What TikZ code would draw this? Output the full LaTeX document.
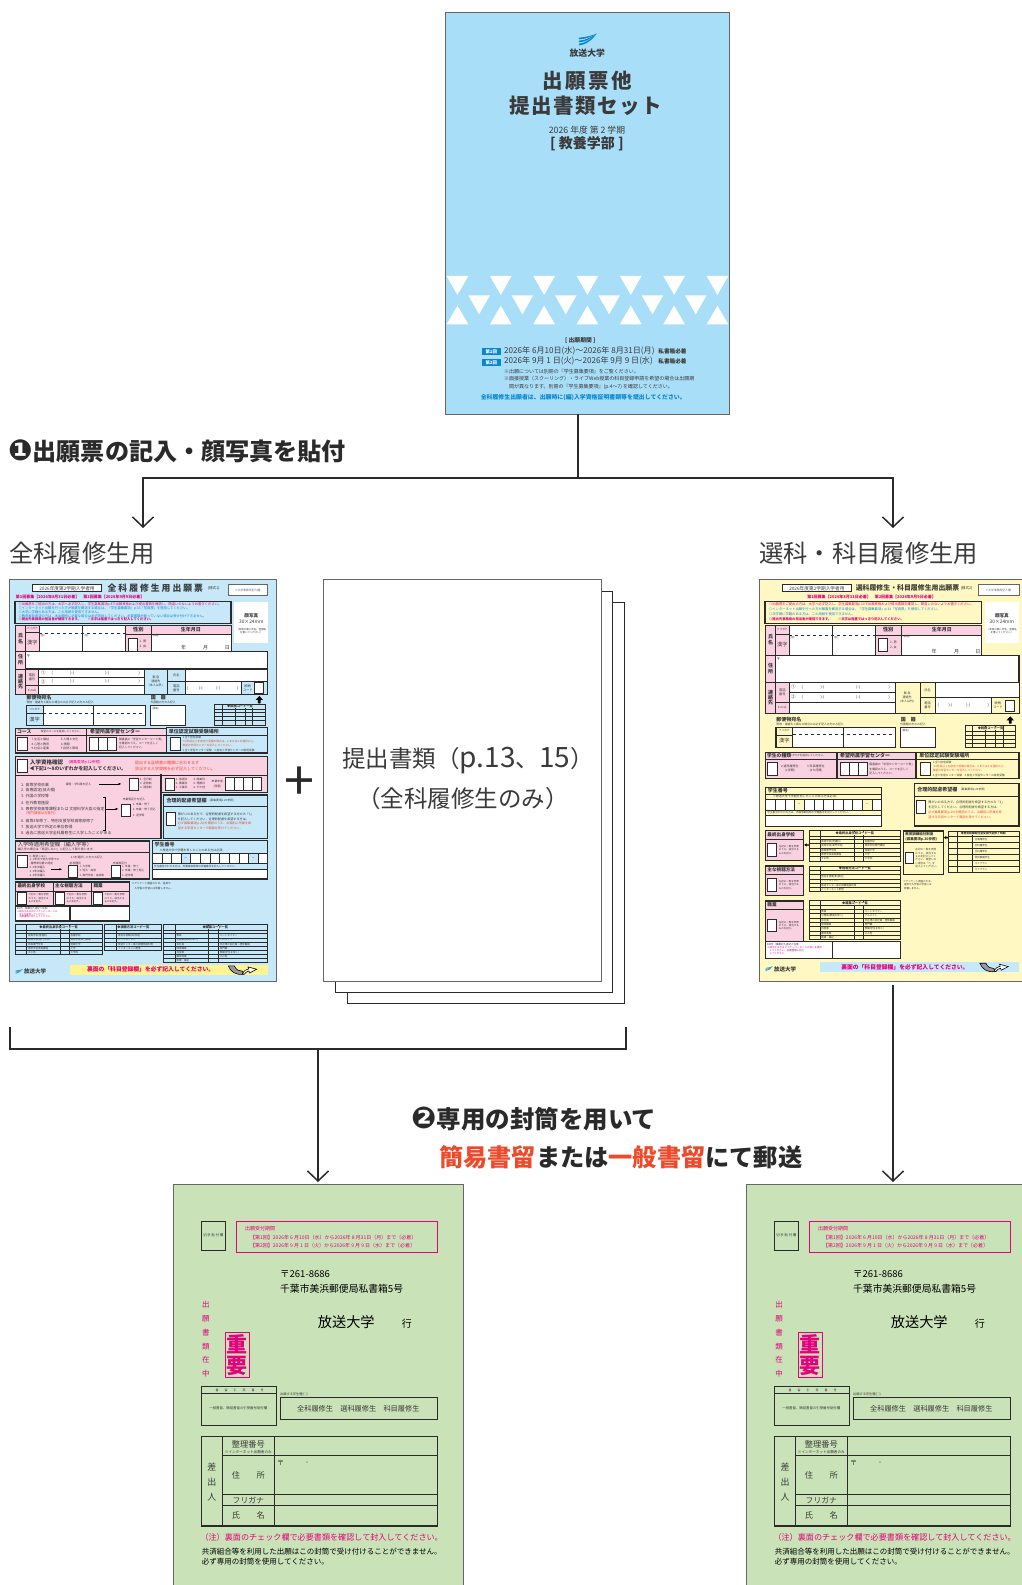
\documentclass[tikz,border=0pt]{standalone}
\usepackage{fontspec}
\setmainfont{Noto Sans CJK JP}
\newfontfamily\dingfont{DejaVu Sans}
\usetikzlibrary{arrows.meta}
\definecolor{coverblue}{HTML}{A9DEF9}
\definecolor{formblue}{HTML}{C6E8F8}
\definecolor{formpink}{HTML}{F9D1E1}
\definecolor{formyellow}{HTML}{FFF8C2}
\definecolor{bandyellow}{HTML}{FFF38F}
\definecolor{envgreen}{HTML}{C9E2B8}
\definecolor{hotpink}{HTML}{E6007E}
\definecolor{orangered}{HTML}{EC4A2A}
\definecolor{inkdark}{HTML}{2A2A2A}
\definecolor{inktext}{HTML}{3A3A3A}
\definecolor{logoblue}{HTML}{0A86CE}
\newcommand{\fs}[1]{\fontsize{#1}{#1}\selectfont}
% table: x1 x2 y1 y2, rows, columns
\newcommand{\gridtable}[6]{
  \draw[cell] (#1,#3) rectangle (#2,#4);
  \foreach \yy in {#5} \draw[cell] (#1,\yy)--(#2,\yy);
  \foreach \xx in {#6} \draw[cell] (\xx,#3)--(\xx,#4);
}
% telephone brackets: name, y, then x of each bracket
\newcommand{\phonerow}[6]{
  \node[ct,font=\fs{3.6}] (#1a) at (#3,#2) {(};
  \node[ct,font=\fs{3.6}] (#1b) at (#4,#2) {)-(};
  \node[ct,font=\fs{3.6}] (#1c) at (#5,#2) {)-(};
  \node[ct,font=\fs{3.6}] (#1d) at (#6,#2) {)};
}
\tikzset{
  lt/.style={inner sep=0pt,anchor=west,text=inktext},
  ct/.style={inner sep=0pt,anchor=center,text=inktext},
  cell/.style={draw=inkdark,line width=0.7pt},
  heavycell/.style={draw=inkdark,line width=1.2pt},
  sheet/.style={draw=black!60,line width=1pt,inner sep=0pt},
  link/.style={draw=inkdark,line width=1.5pt},
  linkarrow/.style={link,-{Straight Barb[length=10pt,width=21pt,line width=1.5pt]}},
  turnover/.pic={
    \fill[draw=black,fill=black!40,line width=0.6pt] (685,588)--(703,588) .. controls (708,600) and (718,604) .. (727,604)--(731,613) .. controls (705,616) and (692,605) .. (685,588)--cycle;
    \fill[draw=black,fill=white,line width=0.6pt] (727,612) .. controls (733,602) and (738,598) .. (746,597)--(744,591)--(770,598)--(749,609)--(747,603) .. controls (741,604) and (736,608) .. (733,613)--cycle;
  },
  logostripes/.pic={
    \foreach \dy in {-2,7,16} \fill[logoblue] (0,\dy) .. controls (22,\dy-1) and (42,{-9+\dy*0.35}) .. (53,-14) .. controls (44,{-7+\dy*0.45}) and (22,\dy+4.5) .. (0,\dy+5)--cycle;
  },
  envelope/.pic={
    \begin{scope}[x=0.3333pt,y=-0.3333pt]
      \node[sheet,fill=envgreen,minimum width=290pt,minimum height=430pt,anchor=north west] (body) at (23,12) {};
      \draw[heavycell,fill=envgreen] (109,125) rectangle (181,211);
      \node[ct,font=\fs{3.4}] (stamp) at (145,167) {切 手 貼 付 欄};
      \draw[draw=hotpink,line width=1.4pt] (215,125) rectangle (817,217);
      \node[lt,text=hotpink,font=\fs{5}] (termhead) at (240,146) {出願受付期間};
      \node[lt,text=hotpink,font=\fs{5}] (termone) at (255,172) {【第1回】2026年 6 月10日（水）から2026年 8 月31日（月）まで〔必着〕};
      \node[lt,text=hotpink,font=\fs{5}] (termtwo) at (255,197) {【第2回】2026年 9 月 1 日（火）から2026年 9 月 9 日（水）まで〔必着〕};
      \node[lt,text=black,font=\fs{9.5}] (zip) at (345,283) {〒261-8686};
      \node[lt,text=black,font=\fs{9.8}] (addr) at (345,327) {千葉市美浜郵便局私書箱5号};
      \node[lt,text=black,font=\fs{14.2}] (univ) at (458,425) {放送大学};
      \node[ct,text=black,font=\fs{10}] (yuki) at (726,430) {行};
      \node[ct,text=hotpink,align=center,font=\fs{7.5}] (inner) at (123,478) {出\\[6.3pt]願\\[6.3pt]書\\[6.3pt]類\\[6.3pt]在\\[6.3pt]中};
      \draw[draw=hotpink,line width=0.8pt] (180,456) rectangle (254,592);
      \node[ct,text=hotpink,align=center,font=\fs{21}\bfseries] (juyo) at (217,524) {重\\要};
      \draw[heavycell] (109,620) rectangle (334,737);
      \draw[heavycell] (109,640)--(334,640);
      \node[ct,font=\fs{3}\addfontfeature{LetterSpace=200}] (reghead) at (224,630) {書留引受番号};
      \node[ct,font=\fs{3.4}] (regbody) at (220,686) {一般書留、簡易書留の引受番号貼付欄};
      \node[lt,font=\fs{3.2}] (kindhead) at (345,643) {出願する学生種(□)};
      \draw[heavycell] (346,652) rectangle (817,719);
      \node[ct,font=\fs{7.2}] (kind) at (580,687) {全科履修生　選科履修生　科目履修生};
      \draw[heavycell] (109,770) rectangle (817,1038);
      \draw[heavycell] (173,770)--(173,1038);
      \draw[heavycell] (328,770)--(328,1038);
      \draw[heavycell] (173,827)--(817,827);
      \draw[heavycell] (173,943)--(817,943);
      \draw[heavycell] (173,976)--(817,976);
      \node[ct,align=center,font=\fs{9}] (sender) at (141,905) {差\\[6pt]出\\[6pt]人};
      \node[ct,font=\fs{8.2}] (seiri) at (250,792) {整理番号};
      \node[ct,font=\fs{3.6}] (seirisub) at (250,815) {※インターネット出願者のみ};
      \node[ct,font=\fs{8.2}] (jusho) at (250,885) {住　　所};
      \node[ct,font=\fs{7.8}] (kana) at (250,960) {フリガナ};
      \node[ct,font=\fs{8.2}] (shimei) at (250,1006) {氏　　名};
      \node[ct,font=\fs{7}] (post) at (347,850) {〒};
      \node[ct,font=\fs{7}] (dash) at (426,850) {-};
      \node[lt,text=hotpink,font=\fs{8.1}] (note) at (106,1071) {（注）裏面のチェック欄で必要書類を確認して封入してください。};
      \node[lt,text=black,font=\fs{7.5}] (warnone) at (110,1115) {共済組合等を利用した出願はこの封筒で受け付けることができません。};
      \node[lt,text=black,font=\fs{7.5}] (warntwo) at (110,1145) {必ず専用の封筒を使用してください。};
    \end{scope}
  }
}
\begin{document}
\begin{tikzpicture}[x=1pt,y=-1pt]
  \useasboundingbox (0,0) rectangle (1022,1585);
  \clip (0,0) rectangle (1022,1585);

  % cover
  \node[sheet,fill=coverblue,minimum width=284pt,minimum height=402pt] (cover) at (587,213) {};
  \begin{scope}[x=0.3333pt,y=-0.3333pt,shift={(1290,0)}]
    \pic at (447,115) {logostripes};
    \node[ct,font=\fs{8.8}\bfseries] (logotext) at (472,160) {放送大学};
    \node[ct,font=\fs{20.5}\bfseries\addfontfeature{LetterSpace=13.5}] (covertop) at (472,243) {出願票他};
    \node[ct,font=\fs{20.5}\bfseries\addfontfeature{LetterSpace=7}] (coverbot) at (468,318) {提出書類セット};
    \node[ct,font=\fs{8.8}] (coveryear) at (471,390) {2026 年度 第 2 学期};
    \node[ct,font=\fs{14}\bfseries] (coverdept) at (471,432) {[\ 教養学部\ ]};
    \foreach \i in {0,...,6} {
      \fill[white] (50+130*\i,828)--(115+130*\i,828)--(82.5+130*\i,885)--cycle;
      \fill[white] (50+130*\i,973)--(115+130*\i,973)--(82.5+130*\i,917)--cycle;
    }
    \foreach \i in {0,...,5}
      \fill[white] (115+130*\i,886)--(180+130*\i,886)--(147.5+130*\i,943)--cycle;
    \node[ct,font=\fs{5.8}\bfseries] (termtitle) at (451,1021) {[\ 出願期間\ ]};
    \fill[logoblue] (157,1044) rectangle (212,1065);
    \fill[logoblue] (157,1077) rectangle (212,1098);
    \node[ct,text=white,font=\fs{4.4}\bfseries] (roundone) at (184,1055) {第1回};
    \node[ct,text=white,font=\fs{4.4}\bfseries] (roundtwo) at (184,1088) {第2回};
    \node[lt,font=\fs{8.1}] (dateone) at (222,1053) {2026年 6月10日(水)〜2026年 8月31日(月)};
    \node[lt,font=\fs{8.1}] (datetwo) at (222,1084) {2026年 9月 1 日(火)〜2026年 9月 9 日(水)};
    \node[lt,font=\fs{5.6}\bfseries] (mailone) at (685,1055) {私書箱必着};
    \node[lt,font=\fs{5.6}\bfseries] (mailtwo) at (685,1085) {私書箱必着};
    \node[lt,font=\fs{5}] (cnoteone) at (222,1115) {※出願については別冊の『学生募集要項』をご覧ください。};
    \node[lt,font=\fs{5}] (cnotetwo) at (222,1137) {※面接授業（スクーリング）・ライブWeb授業の科目登録申請を希望の場合は出願期};
    \node[lt,font=\fs{5}] (cnotethr) at (237,1160) {間が異なります。別冊の『学生募集要項』(p.4〜7) を確認してください。};
    \node[ct,text=logoblue,font=\fs{5.9}\bfseries] (cnoteblue) at (460,1193) {全科履修生出願者は、出願時に(編)入学資格証明書類等を提出してください。};
  \end{scope}

  % step one
  \node[lt,text=inkdark,font=\fs{24.1}\bfseries] (stepone) at (8,451) {{\dingfont\fs{29}❶}出願票の記入・顔写真を貼付};
  \coordinate (coverfoot) at (578,414);
  \coordinate (split) at (578,478);
  \coordinate (turnzen) at (143,478);
  \coordinate (turnsen) at (893,478);
  \coordinate (tipzen) at (143,528);
  \coordinate (tipsen) at (893,528);
  \draw[link] (coverfoot) -- (split);
  \draw[linkarrow] (split) -- (turnzen) -- (tipzen);
  \draw[linkarrow] (split) -- (turnsen) -- (tipsen);
  \node[lt,text=inktext,font=\fs{24.3}] (labelzen) at (9,553) {全科履修生用};
  \node[lt,text=inktext,font=\fs{24.3}] (labelsen) at (759,553) {選科・科目履修生用};

  % full course form
  \node[sheet,fill=formblue,minimum width=267pt,minimum height=402pt] (formzen) at (142.5,780) {};
  \begin{scope}[x=0.3333pt,y=-0.3333pt,shift={(0,1710)}]
    \draw[heavycell,fill=white] (97,44) rectangle (305,65);
    \node[ct,font=\fs{4.7}] (a1) at (201,55) {2026年度第2学期入学者用};
    \node[ct,font=\fs{8.8}\bfseries] (a2) at (466,55) {全 科 履 修 生 用 出 願 票};
    \node[lt,font=\fs{3.6}] (a3) at (623,55) {(様式1)};
    \draw[draw=black!60,fill=white,line width=0.6pt] (684,44) rectangle (803,75);
    \node[ct,text=black!60,font=\fs{2.8}] (a4) at (743,60) {※大学事務局記入欄};
    \node[lt,text=hotpink,font=\fs{4}\bfseries] (a5) at (47,80) {第1回募集【2026年8月31日必着】　第2回募集【2026年9月9日必着】};
    \draw[line width=1.4pt,draw=inkdark] (45,95) rectangle (693,160);
    \node[lt,text=hotpink,font=\fs{3.3}] (a6) at (55,103) {◎出願票をご提出の方は、太字へ必ず記入し、学生募集要項p.8で出願資格および提出書類を確認し、間違いのないようお書きください。};
    \node[lt,text=logoblue,font=\fs{3.3}] (a7) at (55,115) {◎インターネット出願を行った方が願書を郵送する場合は、『学生募集要項』p.33「写真票」を使用してください。};
    \node[lt,text=logoblue,font=\fs{3.3}] (a8) at (55,127) {◎大学に学籍のある方は、この用紙を使用できません。};
    \node[lt,text=logoblue,font=\fs{3.3}] (a9) at (55,138) {◎教育実習希望の方は、本出願時に必要な場合は必ず同封してください。必要書類が揃っていない場合は受け付けできません。};
    \node[lt,text=hotpink,font=\fs{3.3}\bfseries] (a10) at (55,149) {◎提出先事務局の担当者が確認できます。　　※文字は楷書ではっきり記入してください。};
    \fill[white] (703,95) rectangle (805,218);
    \node[ct,font=\fs{4.6}\bfseries] (a11) at (754,137) {顔写真};
    \node[ct,font=\fs{4.8}] (a12) at (754,157) {30×24mm};
    \node[ct,align=center,font=\fs{2.5}] (a13) at (754,183) {〔写真の裏に氏名、登録名\\を書いてください〕};
    % name rows
    \filldraw[cell,fill=formpink] (47,167) rectangle (117,243);
    \draw[cell] (77,167)--(77,243) (77,187)--(117,187);
    \filldraw[cell,fill=white] (117,167) rectangle (247,243);
    \filldraw[cell,fill=white] (247,167) rectangle (375,243);
    \draw[draw=inkdark,line width=0.4pt,dashed] (117,190)--(375,190);
    \filldraw[cell,fill=formpink] (377,167) rectangle (453,243);
    \draw[cell] (377,192)--(453,192);
    \filldraw[cell,fill=white] (385,205) rectangle (412,243);
    \filldraw[cell,fill=formpink] (453,167) rectangle (693,192);
    \filldraw[cell,fill=white] (453,192) rectangle (693,243);
    \node[ct,align=center,font=\fs{5}\bfseries] (a14) at (62,205) {氏\\[1pt]名};
    \node[ct,font=\fs{2.7}] (a15) at (97,177) {フリガナ};
    \node[ct,font=\fs{5.2}] (a16) at (97,217) {漢字};
    \node[lt,font=\fs{2.6}] (a17) at (121,197) {(姓)};
    \node[lt,font=\fs{2.6}] (a18) at (252,197) {(名)};
    \node[ct,font=\fs{5.2}\bfseries] (a19) at (415,180) {性別};
    \node[lt,align=left,font=\fs{3.2}] (a20) at (418,222) {1. 男\\[1pt]2. 女};
    \node[ct,font=\fs{5}\bfseries] (a21) at (573,180) {生年月日};
    \node[lt,font=\fs{2.6}] (a22) at (457,198) {(西暦)};
    \foreach \xx/\tx in {551/年,617/月,682/日} \node[ct,font=\fs{5}] (a23\tx) at (\xx,232) {\tx};
    % address and contact
    \filldraw[heavycell,fill=white] (47,245) rectangle (803,297);
    \filldraw[cell,fill=formpink] (47,245) rectangle (77,297);
    \node[ct,align=center,font=\fs{5}\bfseries] (a24) at (62,270) {住\\[1pt]所};
    \node[ct,font=\fs{4}] (a25) at (85,257) {〒};
    \filldraw[cell,fill=formpink] (47,297) rectangle (115,373);
    \draw[cell] (77,297)--(77,373) (77,347)--(115,347);
    \filldraw[cell,fill=white] (115,297) rectangle (433,322);
    \filldraw[cell,fill=white] (115,322) rectangle (433,347);
    \filldraw[cell,fill=white] (115,347) rectangle (433,373);
    \node[ct,align=center,font=\fs{5}\bfseries] (a26) at (62,335) {連\\[0pt]絡\\[0pt]先};
    \node[ct,align=center,font=\fs{3.2}] (a27) at (96,322) {電話\\[1pt]番号};
    \node[ct,font=\fs{2.8}] (a28) at (96,360) {E-mail};
    \foreach \yy/\tx in {309/①,335/②} {
      \node[ct,font=\fs{4.4}] (a29\yy) at (130,\yy) {\tx};
      \phonerow{a30\yy}{\yy}{157}{217}{322}{418}
    }
    \filldraw[cell,fill=formblue] (433,297) rectangle (503,373);
    \node[ct,align=center,font=\fs{3}] (a30) at (468,335) {緊 急\\[1pt]連絡先\\[1pt](本人以外)};
    \filldraw[cell,fill=formblue] (503,297) rectangle (555,373);
    \draw[cell] (503,335)--(555,335);
    \filldraw[cell,fill=white] (555,297) rectangle (803,335);
    \filldraw[cell,fill=white] (555,335) rectangle (723,373);
    \filldraw[cell,fill=formblue] (723,335) rectangle (803,373);
    \filldraw[cell,fill=white] (763,337) rectangle (790,371);
    \node[ct,font=\fs{3.2}] (a31) at (529,316) {氏名};
    \node[ct,align=center,font=\fs{3.2}] (a32) at (529,354) {電話\\[1pt]番号};
    \phonerow{a33}{354}{563}{602}{655}{713}
    \node[ct,align=center,font=\fs{3.2}] (a34) at (743,354) {続柄\\[1pt]コード};
    \fill[black] (778,378)--(789,390)--(782,390)--(782,400)--(774,400)--(774,390)--(767,390)--cycle;
    % mailing
    \node[lt,font=\fs{5}\bfseries] (a35) at (79,383) {郵便物宛名};
    \node[lt,font=\fs{2.8}] (a36) at (79,397) {現物・連絡先と異なる場合のみ必ず記入の方のみ記入};
    \filldraw[heavycell,fill=white] (79,407) rectangle (437,467);
    \filldraw[cell,fill=formblue] (79,407) rectangle (129,467);
    \draw[cell] (79,430)--(129,430) (281,407)--(281,467);
    \draw[draw=inkdark,line width=0.4pt,dashed] (129,430)--(437,430);
    \node[ct,font=\fs{2.7}] (a37) at (104,418) {フリガナ};
    \node[ct,font=\fs{5.2}] (a38) at (104,448) {漢字};
    \node[lt,font=\fs{5}\bfseries] (a39) at (452,383) {国　籍};
    \node[lt,font=\fs{2.8}] (a40) at (451,397) {外国籍の方のみ記入};
    \filldraw[heavycell,fill=white] (451,407) rectangle (557,467);
    \node[lt,font=\fs{2.6}] (a41) at (456,417) {(国名)};
    \gridtable{643}{797}{402}{467}{417,428,440,452}{666,705,735,757}
    \node[ct,fill=formblue,font=\fs{3.2}\bfseries] (a42) at (720,410) {◆続柄コード一覧};
    % course row
    \filldraw[heavycell,fill=formpink] (47,475) rectangle (260,549);
    \draw[cell] (47,495)--(260,495);
    \filldraw[cell,fill=white] (53,503) rectangle (83,540);
    \node[lt,font=\fs{4.8}\bfseries] (a43) at (51,485) {コース};
    \node[lt,font=\fs{2.6}] (a44) at (122,485) {希望のコースを選択してください。};
    \foreach \yy/\tl/\tr in {507/7.生活と福祉/E.人間と文化,522/8.心理と教育/G.情報,536/9.社会と産業/F.自然と環境} {
      \node[lt,font=\fs{3}] (a45\yy) at (94,\yy) {\tl};
      \node[lt,font=\fs{3}] (a46\yy) at (182,\yy) {\tr};
    }
    \filldraw[heavycell,fill=formpink] (260,475) rectangle (500,549);
    \draw[cell] (260,495)--(500,495);
    \node[lt,font=\fs{5}\bfseries] (a47) at (270,485) {希望所属学習センター};
    \filldraw[cell,fill=white] (267,503) rectangle (350,540);
    \draw[cell] (295,503)--(295,540) (322,503)--(322,540);
    \node[lt,align=left,font=\fs{2.8}] (a48) at (357,521) {願書裏の「学習センターコード表」\\[1.3pt]を確認のうえ、コードを正しく\\[1.3pt]記入してください。};
    \filldraw[heavycell,fill=formblue] (500,473) rectangle (803,549);
    \draw[cell] (500,495)--(803,495);
    \node[lt,font=\fs{5}\bfseries] (a49) at (506,485) {単位認定試験受験場所};
    \filldraw[cell,fill=white] (510,503) rectangle (540,540);
    \node[lt,font=\fs{2.7}] (a50) at (547,503) {1.全て自宅受験};
    \node[lt,align=left,text=orangered,font=\fs{2.7}] (a51) at (547,520) {※2科目以上を自宅で受験の場合は、2.または3.を選択の上、\\[0.8pt]希望の学習センターを記入してください。};
    \node[lt,font=\fs{2.7}] (a52) at (547,542) {2.全て学習センター受験　3.自宅と学習センターの併用受験};
    % qualification
    \filldraw[heavycell,fill=formpink] (47,560) rectangle (803,668);
    \filldraw[heavycell,fill=formpink] (47,615) rectangle (483,805);
    \fill[formpink] (49,612) rectangle (481,670);
    \draw[cell] (47,615)--(803,615);
    \filldraw[cell,fill=white] (53,568) rectangle (81,606);
    \node[lt,font=\fs{5.5}\bfseries] (a53) at (90,578) {入学資格確認};
    \node[lt,text=hotpink,font=\fs{3.7}] (a54) at (205,578) {(募集要項p.12参照)};
    \node[lt,font=\fs{4.8}\bfseries] (a55) at (88,597) {◀下記1〜8のいずれかを記入してください。};
    \node[lt,text=orangered,font=\fs{4}] (a56) at (405,580) {提出する証明書の種類に合わせるず};
    \node[lt,text=orangered,font=\fs{4}] (a57) at (405,597) {該当する入学資格を必ず記入してください。};
    \begin{scope}[shift={(0,600)}]
      \foreach \yy/\tx in {44/1. 高等学校卒業,61/2. 高専認定(旧大検),79/3. 外国の学校等,98/4. 在外教育施設,117/5. 専修学校高等課程または 文部科学大臣の指定,152/6. 高等3年修了、特別支援学校高等部修了,170/7. 放送大学で所定の単位修得,190/8. 過去に放送大学全科履修生に入学したことがある}
        \node[lt,font=\fs{3.9}] (a58\yy) at (63,\yy) {\tx};
      \node[lt,text=orangered,font=\fs{3.4}] (a59) at (78,130) {(専門課程は対象外)};
      \node[lt,font=\fs{2.8}] (a60) at (197,44) {課程・学科等を記入};
      \coordinate (a61) at (297,42);
      \coordinate (a62) at (365,42);
      \draw[-{Latex[length=3pt]},line width=0.7pt] (a61) -- (a62);
      \filldraw[cell,fill=white] (388,25) rectangle (415,62);
      \filldraw[cell,fill=white] (495,25) rectangle (522,62);
      \foreach \yy/\tl in {29/1. 全日制,40/2. 定時制,52/3. 通信制} \node[lt,font=\fs{2.8}] (a63\yy) at (420,\yy) {\tl};
      \foreach \yy/\tl/\tr in {29/1. 普通科/4. 商業科,40/2. 農業科/5. 理数科,52/3. 工業科/6. その他} {
        \node[lt,font=\fs{2.8}] (a64\yy) at (527,\yy) {\tl};
        \node[lt,font=\fs{2.8}] (a65\yy) at (580,\yy) {\tr};
      }
      \node[ct,align=center,font=\fs{2.8}] (a66) at (652,42) {卒業年度\\[2pt](西暦)};
      \filldraw[cell,fill=white] (677,23) rectangle (785,60);
      \draw[cell] (703,23)--(703,60) (730,23)--(730,60) (758,23)--(758,60);
      \draw[line width=0.8pt] (310,82)--(316,82)--(316,180)--(310,180);
      \coordinate (a67) at (316,117);
      \coordinate (a68) at (356,117);
      \draw[-{Latex[length=3pt]},line width=0.7pt] (a67) -- (a68);
      \node[ct,font=\fs{2.8}] (a69) at (402,90) {卒業等区分を記入};
      \filldraw[cell,fill=white] (363,103) rectangle (392,140);
      \foreach \yy/\tl in {105/1. 卒業・修了,120/2. 卒業・修了見込,136/3. 退学等} \node[lt,font=\fs{2.8}] (a70\yy) at (398,\yy) {\tl};
      % reasonable accommodation
      \filldraw[heavycell,fill=formblue] (491,75) rectangle (803,205);
      \draw[cell] (491,110)--(803,110);
      \node[lt,font=\fs{5}\bfseries] (a71) at (499,93) {合理的配慮希望欄};
      \node[lt,font=\fs{2.8}] (a72) at (628,93) {(募集要項p.20参照)};
      \filldraw[cell,fill=white] (498,127) rectangle (525,165);
      \node[lt,font=\fs{3.1}] (a73) at (533,133) {障がいのある方で、合理的配慮を希望する方のみ「1」};
      \node[lt,font=\fs{3.1}] (a74) at (533,147) {を記入してください。合理的配慮を希望する方は、};
      \node[lt,text=orangered,font=\fs{3.1}] (a75) at (533,161) {必ず募集要項(p.20)を確認のうえ、出願前に所属を希};
      \node[lt,text=orangered,font=\fs{3.1}] (a76) at (533,175) {望する学習センターで面談を受けてください。};
      % admission credits
      \filldraw[heavycell,fill=formpink] (47,213) rectangle (449,327);
      \draw[cell] (47,247)--(449,247);
      \node[lt,font=\fs{5.3}] (a77) at (53,225) {入学時適用希望欄（編入学等）};
      \node[lt,font=\fs{3}] (a78) at (53,238) {編入学の場合は「希望しない」に記入して取り扱います。};
      \filldraw[cell,fill=white] (53,255) rectangle (82,292);
      \node[lt,align=left,font=\fs{2.8}] (a79) at (88,287) {0. 希望しない\\[1pt]1. 1年次で他大学等での\\[1pt]\ \ 履修単位数の認定\\[1pt]2. 2年次編入\\[1pt]3. 3年次編入\\[1pt]4. 4年次編入};
      \node[lt,font=\fs{2.8}] (a80) at (212,262) {2.3を選択した方のみ記入};
      \node[ct,font=\fs{2.8}] (a81) at (226,280) {前校種別};
      \node[ct,font=\fs{2.8}] (a82) at (360,280) {卒業等区分};
      \filldraw[cell,fill=white] (205,286) rectangle (233,323);
      \filldraw[cell,fill=white] (333,286) rectangle (361,323);
      \foreach \yy/\tl/\tr in {289/1. 大学等/1. 卒業・修了,303/2. 短大・高専/2. 卒業・修了見込,316/3. 専門学校・高校等/3. 退学等} {
        \node[lt,font=\fs{2.7}] (a83\yy) at (238,\yy) {\tl};
        \node[lt,font=\fs{2.7}] (a84\yy) at (366,\yy) {\tr};
      }
      \coordinate (a85) at (152,298);
      \coordinate (a86) at (187,298);
      \draw[-{Latex[length=3pt]},line width=0.7pt] (a85) -- (a86);
      % student number
      \filldraw[heavycell,fill=formblue] (457,212) rectangle (803,327);
      \node[lt,font=\fs{5}\bfseries] (a87) at (463,225) {学生番号};
      \node[lt,font=\fs{3}] (a88) at (478,240) {※放送大学で学籍を有したことのある方は必須。};
      \foreach \xa/\xb in {458/486,486/514,514/543,572/601,601/630,630/659,659/688,688/717,717/746,775/803}
        \filldraw[cell,fill=white] (\xa,250) rectangle (\xb,281);
      \draw[cell] (543,250) rectangle (572,281) (746,250) rectangle (775,281);
      \node[ct,font=\fs{4}] (a89) at (557,266) {−};
      \node[ct,font=\fs{4}] (a90) at (760,266) {−};
      \node[lt,font=\fs{2.6}] (a91) at (462,289) {学生番号がわかる方は、所属等取得時の学籍番号を記入してください。};
      \filldraw[cell,fill=white] (458,298) rectangle (803,326);
      % survey boxes
      \foreach \xa/\xb/\tx/\sq in {47/160/最終出身学校/52,160/275/主な視聴方法/166,275/388/職業/280} {
        \filldraw[heavycell,fill=formpink] (\xa,336) rectangle (\xb,407);
        \draw[cell] (\xa,363)--(\xb,363);
        \filldraw[cell,fill=white] (\sq,366) rectangle (\sq+27,403);
        \node[lt,font=\fs{4.6}\bfseries] (a92\xa) at (\xa+5,349) {\tx};
        \node[lt,align=left,font=\fs{2.5}] (a93\xa) at (\sq+33,385) {下記の一覧を参照\\[0.8pt]のうえ、該当する\\[0.8pt]ものを記入。};
      }
      \node[lt,font=\fs{2.6}] (a94) at (395,340) {※アンケート調査のため、選択や};
      \node[lt,font=\fs{2.6}] (a95) at (403,355) {入学後の学習には影響しません。};
      \filldraw[heavycell,fill=white] (47,408) rectangle (210,453);
      \filldraw[heavycell,fill=white] (210,408) rectangle (388,453);
      \node[lt,font=\fs{2.4}] (a96) at (50,415) {BIR件（職業記入者記入任意）};
      \node[lt,align=left,text=hotpink,font=\fs{2.4}] (a97) at (50,433) {※該当する方はマイナンバーカードの\\[0.4pt]　写しを提出してください\\[0.4pt]　出願書類に記入してください。};
      % code tables
      \gridtable{45}{308}{463}{553}{480,491,504,517,530,541}{80,180,207}
      \gridtable{314}{485}{463}{540}{480,491,504,517,530}{350}
      \gridtable{489}{803}{463}{578}{480,491,504,517,530,541,553,566}{525,625,655}
      \node[ct,fill=formblue,font=\fs{3.2}\bfseries] (a98) at (176,472) {◆最終出身学校コード一覧};
      \node[ct,fill=formblue,font=\fs{3.2}\bfseries] (a99) at (400,472) {◆視聴方法コード一覧};
      \node[ct,fill=formblue,font=\fs{3.2}\bfseries] (a100) at (646,472) {◆職業コード一覧};
      \foreach \yy/\tl/\tr in {497/高等学校(普通科)/各種学校,510/高等学校(専門学科)/専修学校専門課程,523/高等専門学校/短期大学,535/専修学校高等課程/大学,547/その他/大学院}{
        \node[lt,font=\fs{2.5}] (a101\yy) at (84,\yy) {\tl};
        \node[lt,font=\fs{2.5}] (a102\yy) at (211,\yy) {\tr};
      }
      \foreach \yy/\tl in {497/放送を視聴(BS放送),510/ケーブルテレビ,523/放送センター等の視聴施設利用,535/インターネット配信}
        \node[lt,font=\fs{2.5}] (a103\yy) at (354,\yy) {\tl};
      \foreach \yy/\tl/\tr in {497/教員/パートタイマー,510/公務員(教員を除く)/アルバイト,523/会社員/非正規の会社員・団体職員,535/団体職員/専門職,547/自営業/無職(学生を除く),559/農林漁業/その他,572/医療・福祉/}{
        \node[lt,font=\fs{2.5}] (a104\yy) at (529,\yy) {\tl};
        \node[lt,font=\fs{2.5}] (a105\yy) at (659,\yy) {\tr};
      }
      % bottom strip
      \begin{scope}[shift={(47,603)},x=0.13pt,y=-0.13pt]
        \pic at (0,0) {logostripes};
      \end{scope}
      \node[lt,font=\fs{5.5}\bfseries] (a106) at (72,605) {放送大学};
      \fill[bandyellow] (210,585) rectangle (803,615);
      \node[ct,text=hotpink,font=\fs{5.8}\bfseries] (a107) at (452,599) {裏面の「科目登録欄」を必ず記入してください。};
      \pic at (0,0) {turnover};
    \end{scope}
  \end{scope}

  % stack of papers
  \node[sheet,draw=inkdark,line width=0.8pt,fill=white,minimum width=277pt,minimum height=401pt,anchor=north west] (sheetc) at (346.5,602) {};
  \node[sheet,draw=inkdark,line width=0.8pt,fill=white,minimum width=277pt,minimum height=401pt,anchor=north west] (sheetb) at (335,591) {};
  \node[sheet,fill=white,minimum width=278pt,minimum height=402pt,anchor=north west] (sheeta) at (323,579) {};
  \node[ct,font=\fs{23.5}] (papers) at (468,761) {提出書類（{\fs{28}p.13}、{\fs{28}15}）};
  \node[ct,font=\fs{23.5}] (papersub) at (463,799) {（全科履修生のみ）};
  \node[ct,text=inkdark,font=\fs{54}] (plus) at (299,784) {+};

  % subject student form
  \node[sheet,fill=formyellow,minimum width=270pt,minimum height=402pt,anchor=north west] (formsen) at (759,579) {};
  \begin{scope}[x=0.3333pt,y=-0.3333pt,shift={(2250,1710)}]
    \draw[heavycell,fill=white] (97,44) rectangle (305,65);
    \node[ct,font=\fs{4.7}] (b1) at (201,55) {2026年度第2学期入学者用};
    \node[lt,font=\fs{6.9}\bfseries] (b2) at (317,55) {選科履修生・科目履修生用出願票};
    \node[lt,font=\fs{3.6}] (b3) at (632,55) {(様式2)};
    \draw[draw=black!60,fill=white,line width=0.6pt] (684,44) rectangle (807,75);
    \node[ct,text=black!60,font=\fs{2.8}] (b4) at (745,60) {※大学事務局記入欄};
    \node[ct,text=hotpink,font=\fs{4}\bfseries] (b5) at (365,80) {第1回募集【2026年8月31日必着】　第2回募集【2026年9月9日必着】};
    \draw[line width=1.4pt,draw=inkdark] (45,95) rectangle (695,160);
    \node[lt,text=hotpink,font=\fs{3.3}] (b6) at (57,105) {◎出願票をご提出の方は、太字へ必ず記入し、学生募集要項p.10で出願資格および提出書類を確認し、間違いのないようお書きください。};
    \node[lt,text=logoblue,font=\fs{3.3}] (b7) at (57,118) {◎インターネット出願を行った方が願書を郵送する場合は、『学生募集要項』p.33「写真票」を使用してください。};
    \node[lt,text=logoblue,font=\fs{3.3}] (b8) at (57,132) {◎次学期に学籍のある方は、この用紙を使用できません。};
    \node[lt,text=hotpink,font=\fs{3.3}\bfseries] (b9) at (57,149) {◎提出先事務局の担当者が確認できます。　　※文字は楷書ではっきり記入してください。};
    \fill[white] (705,95) rectangle (807,218);
    \node[ct,font=\fs{4.6}\bfseries] (b10) at (756,137) {顔写真};
    \node[ct,font=\fs{4.8}] (b11) at (756,157) {30×24mm};
    \node[ct,align=center,font=\fs{2.5}] (b12) at (756,183) {〔写真の裏に氏名、登録名\\を書いてください〕};
    % name rows
    \filldraw[cell,fill=formpink] (47,167) rectangle (118,255);
    \draw[cell] (77,167)--(77,255) (77,192)--(118,192);
    \filldraw[cell,fill=white] (118,167) rectangle (248,255);
    \filldraw[cell,fill=white] (248,167) rectangle (377,255);
    \draw[draw=inkdark,line width=0.4pt,dashed] (118,195)--(377,195);
    \filldraw[cell,fill=formpink] (377,167) rectangle (455,255);
    \draw[cell] (377,195)--(455,195);
    \filldraw[cell,fill=white] (385,205) rectangle (413,245);
    \filldraw[cell,fill=formpink] (455,167) rectangle (695,195);
    \filldraw[cell,fill=white] (455,195) rectangle (695,255);
    \node[ct,align=center,font=\fs{5}\bfseries] (b13) at (62,210) {氏\\[1pt]名};
    \node[ct,font=\fs{2.7}] (b14) at (97,180) {フリガナ};
    \node[ct,font=\fs{5.2}] (b15) at (97,225) {漢字};
    \node[lt,font=\fs{2.6}] (b16) at (121,202) {(姓)};
    \node[lt,font=\fs{2.6}] (b17) at (252,202) {(名)};
    \node[ct,font=\fs{5.2}\bfseries] (b18) at (415,180) {性別};
    \node[lt,align=left,font=\fs{3.2}] (b19) at (420,225) {1. 男\\[1pt]2. 女};
    \node[ct,font=\fs{5}\bfseries] (b20) at (576,180) {生年月日};
    \node[lt,font=\fs{2.6}] (b21) at (459,200) {(西暦)};
    \foreach \xx/\tx in {553/年,620/月,684/日} \node[ct,font=\fs{5}] (b22\tx) at (\xx,245) {\tx};
    % address and contact
    \filldraw[heavycell,fill=white] (47,257) rectangle (807,337);
    \filldraw[cell,fill=formpink] (47,257) rectangle (77,337);
    \node[ct,align=center,font=\fs{5}\bfseries] (b23) at (62,297) {住\\[1pt]所};
    \node[ct,font=\fs{4}] (b24) at (85,268) {〒};
    \filldraw[cell,fill=formpink] (47,337) rectangle (117,430);
    \draw[cell] (77,337)--(77,430) (77,397)--(117,397);
    \filldraw[cell,fill=white] (117,337) rectangle (435,367);
    \filldraw[cell,fill=white] (117,367) rectangle (435,397);
    \filldraw[cell,fill=white] (117,397) rectangle (435,430);
    \node[ct,align=center,font=\fs{5}\bfseries] (b25) at (62,383) {連\\[0pt]絡\\[0pt]先};
    \node[ct,align=center,font=\fs{3.2}] (b26) at (97,367) {電話\\[1pt]番号};
    \node[ct,font=\fs{2.8}] (b27) at (97,413) {E-mail};
    \foreach \yy/\tx in {352/①,382/②} {
      \node[ct,font=\fs{4.4}] (b28\yy) at (130,\yy) {\tx};
      \phonerow{b29\yy}{\yy}{157}{218}{325}{418}
    }
    \filldraw[cell,fill=formyellow] (435,337) rectangle (510,430);
    \node[ct,align=center,font=\fs{3}] (b29) at (472,383) {緊 急\\[1pt]連絡先\\[1pt](本人以外)};
    \filldraw[cell,fill=formyellow] (510,337) rectangle (557,430);
    \draw[cell] (510,382)--(557,382);
    \filldraw[cell,fill=white] (557,337) rectangle (807,382);
    \filldraw[cell,fill=white] (557,382) rectangle (723,430);
    \filldraw[cell,fill=formyellow] (723,382) rectangle (807,430);
    \filldraw[cell,fill=white] (765,390) rectangle (793,425);
    \node[ct,font=\fs{3.2}] (b30) at (533,360) {氏名};
    \node[ct,align=center,font=\fs{3.2}] (b31) at (533,406) {電話\\[1pt]番号};
    \phonerow{b32}{406}{565}{602}{655}{715}
    \node[ct,align=center,font=\fs{3.2}] (b33) at (744,406) {続柄\\[1pt]コード};
    \fill[black] (781,439)--(792,451)--(785,451)--(785,461)--(777,461)--(777,451)--(770,451)--cycle;
    % mailing
    \node[lt,font=\fs{5}\bfseries] (b34) at (79,450) {郵便物宛名};
    \node[lt,font=\fs{2.8}] (b35) at (79,463) {現物・連絡先と異なる場合のみ必ず記入の方のみ記入};
    \filldraw[heavycell,fill=white] (78,472) rectangle (437,532);
    \filldraw[cell,fill=formyellow] (78,472) rectangle (128,532);
    \draw[cell] (78,495)--(128,495) (281,472)--(281,532);
    \draw[draw=inkdark,line width=0.4pt,dashed] (128,492)--(437,492);
    \node[ct,font=\fs{2.7}] (b36) at (103,483) {フリガナ};
    \node[ct,font=\fs{5.2}] (b37) at (103,513) {漢字};
    \node[lt,font=\fs{5}\bfseries] (b38) at (452,450) {国　籍};
    \node[lt,font=\fs{2.8}] (b39) at (451,463) {外国籍の方のみ記入};
    \filldraw[heavycell,fill=white] (451,472) rectangle (557,532);
    \node[lt,font=\fs{2.6}] (b40) at (456,482) {(国名)};
    \gridtable{645}{797}{467}{532}{484,496,508,520}{668,707,737,759}
    \node[ct,fill=formyellow,font=\fs{3.2}\bfseries] (b41) at (722,476) {◆続柄コード一覧};
    % course row
    \filldraw[heavycell,fill=formpink] (47,548) rectangle (260,625);
    \draw[cell] (47,568)--(260,568);
    \filldraw[cell,fill=white] (53,578) rectangle (83,615);
    \node[lt,font=\fs{4.8}\bfseries] (b42) at (51,558) {学生の種類};
    \node[lt,font=\fs{2.6}] (b43) at (118,558) {いずれかを選択してください。};
    \node[ct,align=center,font=\fs{3}] (b44) at (120,597) {2.選科履修生\\[1pt](1学期)};
    \node[ct,align=center,font=\fs{3}] (b45) at (198,597) {3.科目履修生\\[1pt](6カ月間)};
    \filldraw[heavycell,fill=formpink] (262,548) rectangle (498,625);
    \draw[cell] (262,568)--(498,568);
    \node[lt,font=\fs{5}\bfseries] (b46) at (270,558) {希望所属学習センター};
    \filldraw[cell,fill=white] (270,578) rectangle (352,615);
    \draw[cell] (297,578)--(297,615) (324,578)--(324,615);
    \node[lt,align=left,font=\fs{2.8}] (b47) at (358,597) {願書裏の「学習センターコード表」\\[1.3pt]を確認のうえ、コードを正しく\\[1.3pt]記入してください。};
    \filldraw[heavycell,fill=formyellow] (500,548) rectangle (807,625);
    \draw[cell] (500,568)--(807,568);
    \node[lt,font=\fs{5}\bfseries] (b48) at (508,558) {単位認定試験受験場所};
    \filldraw[cell,fill=white] (512,578) rectangle (540,615);
    \node[lt,font=\fs{2.7}] (b49) at (548,578) {1.全て自宅受験};
    \node[lt,align=left,text=orangered,font=\fs{2.7}] (b50) at (548,595) {※2科目以上を自宅で受験の場合は、2.または3.を選択の上、\\[0.8pt]希望の学習センターを記入してください。};
    \node[lt,font=\fs{2.7}] (b51) at (548,617) {2.全て学習センター受験　3.自宅と学習センターの併用受験};
    \begin{scope}[shift={(0,600)}]
      % student number
      \filldraw[heavycell,fill=formyellow] (47,53) rectangle (395,168);
      \draw[cell] (47,73)--(395,73);
      \node[lt,font=\fs{5}\bfseries] (b52) at (53,63) {学生番号};
      \node[lt,font=\fs{3}] (b53) at (68,79) {※放送大学で学籍を有したことのある方は必須。};
      \foreach \xa/\xb in {47/75,75/105,105/134,163/192,192/221,221/250,250/279,279/308,308/337,366/395}
        \filldraw[cell,fill=white] (\xa,88) rectangle (\xb,120);
      \draw[cell] (134,88) rectangle (163,120) (337,88) rectangle (366,120);
      \node[ct,font=\fs{4}] (b54) at (148,104) {−};
      \node[ct,font=\fs{4}] (b55) at (351,104) {−};
      \node[lt,font=\fs{2.6}] (b56) at (52,128) {学生番号がわかる方は、所属等取得時の学籍番号を記入してください。};
      \filldraw[cell,fill=white] (47,137) rectangle (395,168);
      % accommodation
      \filldraw[heavycell,fill=formyellow] (494,40) rectangle (807,168);
      \draw[cell] (494,78)--(807,78);
      \node[lt,font=\fs{5}\bfseries] (b57) at (502,60) {合理的配慮希望欄};
      \node[lt,font=\fs{2.8}] (b58) at (632,60) {(募集要項p.20参照)};
      \filldraw[cell,fill=white] (499,92) rectangle (527,130);
      \node[lt,font=\fs{3.1}] (b59) at (535,97) {障がいのある方で、合理的配慮を希望する方のみ「1」};
      \node[lt,font=\fs{3.1}] (b60) at (535,113) {を記入してください。合理的配慮を希望する方は、};
      \node[lt,text=orangered,font=\fs{3.1}] (b61) at (535,129) {必ず募集要項(p.20)を確認のうえ、出願前に所属を希};
      \node[lt,text=orangered,font=\fs{3.1}] (b62) at (535,143) {望する学習センターで面談を受けてください。};
      % survey boxes
      \foreach \ya/\yb/\yl/\ys/\tx in {182/272/208/220/最終出身学校,288/377/313/325/主な視聴方法,393/515/418/447/職業} {
        \filldraw[heavycell,fill=formpink] (47,\ya) rectangle (160,\yb);
        \draw[cell] (47,\yl)--(160,\yl);
        \filldraw[cell,fill=white] (53,\ys) rectangle (80,\ys+38);
        \node[lt,font=\fs{4.6}\bfseries] (b63\ya) at (52,\ya+13) {\tx};
        \node[lt,align=left,font=\fs{2.5}] (b64\ya) at (86,\ys+20) {左記の一覧を参照\\[0.8pt]のうえ、該当する\\[0.8pt]ものを記入。};
      }
      \fill[black] (163,225)--(170,220)--(170,223)--(178,223)--(178,227)--(170,227)--(170,230)--cycle;
      \gridtable{178}{452}{182}{273}{198,208,221,234,247,260}{210,312,340}
      \gridtable{178}{452}{288}{365}{302,314,327,340,352}{210}
      \gridtable{178}{452}{392}{508}{407,418,431,444,457,470,483,496}{210,312,340}
      \node[ct,fill=formyellow,font=\fs{3.2}\bfseries] (b65) at (315,190) {◆最終出身学校コード一覧};
      \node[ct,fill=formyellow,font=\fs{3.2}\bfseries] (b66) at (315,295) {◆視聴方法コード一覧};
      \node[ct,fill=formyellow,font=\fs{3.2}\bfseries] (b67) at (315,400) {◆職業コード一覧};
      \foreach \yy/\tl/\tr in {215/高等学校(普通科)/各種学校,228/高等学校(専門学科)/専修学校専門課程,241/高等専門学校/短期大学,254/専修学校高等課程/大学,267/その他/大学院}{
        \node[lt,font=\fs{2.5}] (b68\yy) at (214,\yy) {\tl};
        \node[lt,font=\fs{2.5}] (b69\yy) at (344,\yy) {\tr};
      }
      \foreach \yy/\tl in {320/放送を視聴(BS放送),333/ケーブルテレビ,346/放送センター等の視聴施設利用,358/インターネット配信}
        \node[lt,font=\fs{2.5}] (b70\yy) at (214,\yy) {\tl};
      \foreach \yy/\tl/\tr in {425/教員/パートタイマー,438/公務員(教員を除く)/アルバイト,451/会社員/非正規の会社員・団体職員,464/団体職員/専門職,477/自営業/無職(学生を除く),490/農林漁業/その他,503/医療・福祉/}{
        \node[lt,font=\fs{2.5}] (b71\yy) at (214,\yy) {\tl};
        \node[lt,font=\fs{2.5}] (b72\yy) at (344,\yy) {\tr};
      }
      % training benefit
      \filldraw[heavycell,fill=formyellow] (460,183) rectangle (580,313);
      \draw[cell] (460,218)--(580,218);
      \node[lt,align=left,font=\fs{3.5}\bfseries] (b73) at (466,201) {教育訓練給付制度\\[1pt](募集要項p.20参照)};
      \filldraw[cell,fill=white] (466,247) rectangle (491,281);
      \node[lt,align=left,font=\fs{2.6}] (b74) at (496,265) {左記の一覧を参照\\[0.8pt]のうえ、該当する\\[0.8pt]ものを記入してく\\[0.8pt]ださい。希望しな\\[0.8pt]い場合は「7」を\\[0.8pt]記入してください。};
      \fill[black] (582,203)--(589,198)--(589,201)--(595,201)--(595,205)--(589,205)--(589,208)--cycle;
      \gridtable{595}{807}{183}{307}{198,217,236,254,271,289}{622,668}
      \node[ct,fill=formyellow,font=\fs{2.8}\bfseries] (b75) at (700,190) {◆教育訓練給付金受講予定修了時期};
      \foreach \yy/\i/\tl in {208/1/企業履修生,227/2/全科履修生,245/3/全科履修生,262/4/特別聴講学生,280/5/マイプラン,298/6/マイプラン}
        \node[lt,font=\fs{2.5}] (b76\i) at (674,\yy) {\tl};
      \node[lt,align=left,font=\fs{2.5}] (b77) at (460,345) {※アンケート調査のため、\\[1pt]\ 選択や入学後の学習には\\[1pt]\ 影響しません。};
      \filldraw[heavycell,fill=white] (47,515) rectangle (247,565);
      \filldraw[heavycell,fill=white] (247,515) rectangle (452,565);
      \node[lt,font=\fs{2.5}] (b78) at (51,523) {BIR件（職業記入者記入任意）};
      \node[lt,align=left,text=hotpink,font=\fs{2.5}] (b79) at (51,543) {※該当する方はマイナンバーカードの写しを提出\\[0.4pt]　してください。出願書類に記入\\[0.4pt]　してください。};
      \begin{scope}[shift={(47,595)},x=0.13pt,y=-0.13pt]
        \pic at (0,0) {logostripes};
      \end{scope}
      \node[lt,font=\fs{5.5}\bfseries] (b80) at (72,597) {放送大学};
      \fill[formblue] (210,577) rectangle (807,605);
      \node[ct,text=hotpink,font=\fs{5.8}\bfseries] (b81) at (465,592) {裏面の「科目登録欄」を必ず記入してください。};
      \pic at (5,-8) {turnover};
    \end{scope}
  \end{scope}

  % bracket and step two
  \coordinate (bracketl) at (10,1027);
  \coordinate (bracketlb) at (10,1049);
  \coordinate (bracketr) at (626,1027);
  \coordinate (bracketrb) at (626,1049);
  \coordinate (bracketm) at (318,1049);
  \coordinate (tipenvl) at (318,1182);
  \coordinate (fromsen) at (893,985);
  \coordinate (tipenvr) at (893,1182);
  \draw[link] (bracketl) -- (bracketlb) -- (bracketrb) -- (bracketr);
  \draw[linkarrow] (bracketm) -- (tipenvl);
  \draw[linkarrow] (fromsen) -- (tipenvr);
  \node[lt,text=inkdark,font=\fs{24.5}\bfseries] (steptwo) at (411,1119) {{\dingfont\fs{30}❷}専用の封筒を用いて};
  \node[lt,text=inkdark,font=\fs{24.2}\bfseries] (stepway) at (439,1157) {\textcolor{orangered}{簡易書留}または\textcolor{orangered}{一般書留}にて郵送};

  % envelopes
  \pic (envl) at (165,1180) {envelope};
  \pic (envr) at (738,1180) {envelope};
\end{tikzpicture}
\end{document}
